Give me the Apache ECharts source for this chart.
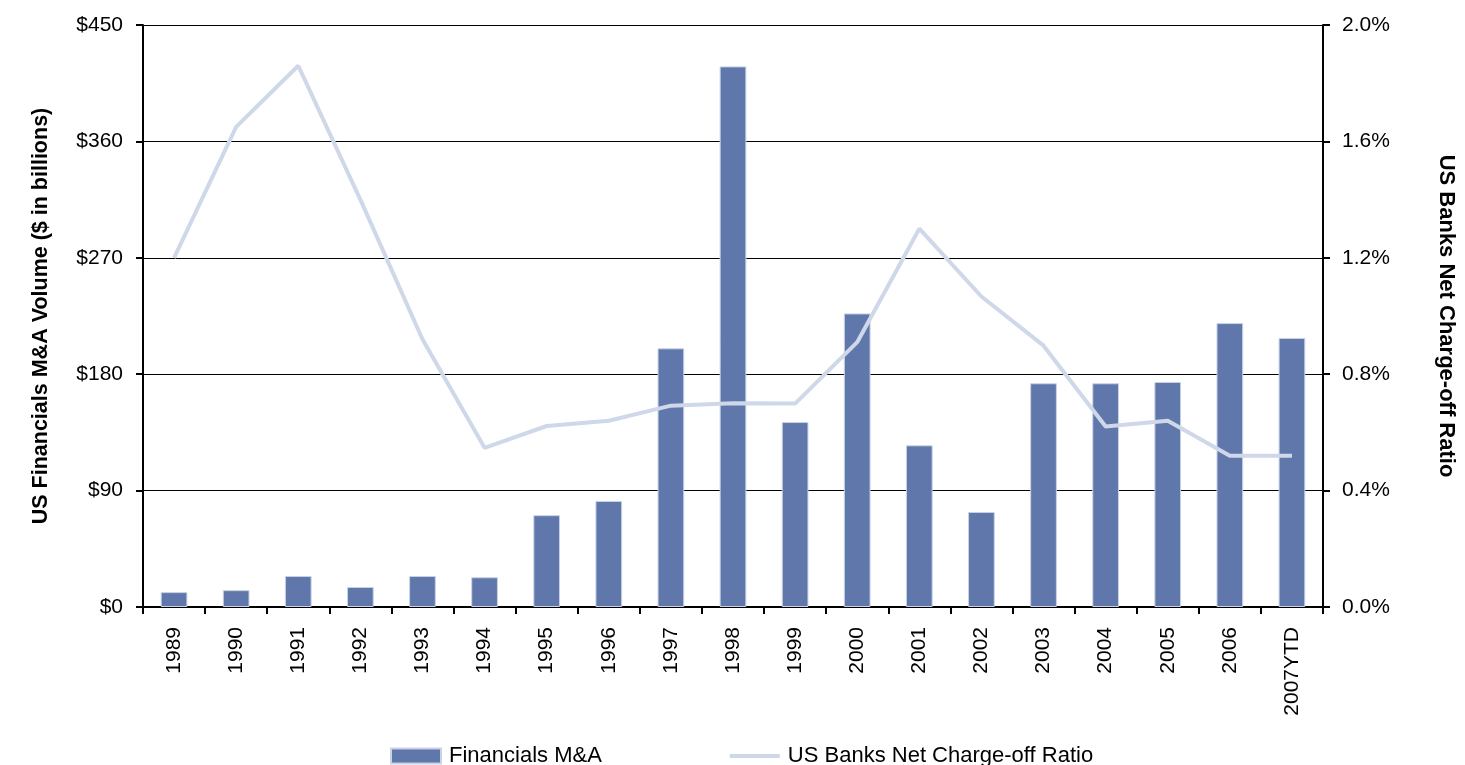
<!DOCTYPE html>
<html>
<head>
<meta charset="utf-8">
<title>US Financials M&amp;A vs. Net Charge-off Ratio</title>
<script src="https://cdn.jsdelivr.net/npm/echarts@6/dist/echarts.min.js"></script>
<style>
  html, body { margin: 0; padding: 0; background: #ffffff; }
  #chart { width: 1465px; height: 765px; }
</style>
</head>
<body>
<div id="chart"></div>
<script>
// Years on the category axis
const years = ['1989', '1990', '1991', '1992', '1993', '1994', '1995', '1996', '1997', '1998',
               '1999', '2000', '2001', '2002', '2003', '2004', '2005', '2006', '2007YTD'];

// US Financials M&A volume, $ billions
const maVolume = [11.5, 13, 24, 15.5, 24, 23, 71, 82, 200, 418,
                  143, 227, 125, 73.5, 173, 173, 174, 219.5, 208];

// US banks net charge-off ratio, percent
const chargeOffRatio = [1.20, 1.65, 1.86, 1.40, 0.92, 0.547, 0.622, 0.640, 0.692, 0.700,
                        0.699, 0.910, 1.30, 1.067, 0.898, 0.620, 0.640, 0.52, 0.52];

// Tick settings for the two value axes
const leftTicks = { min: 0, max: 450, interval: 90 };
const rightTicks = { min: 0, max: 2.0, interval: 0.4 };

const FONT = '"Liberation Sans", Arial, sans-serif';
const BAR_COLOR = '#5f77aa';
const LINE_COLOR = '#cfd8e9';

const chart = echarts.init(document.getElementById('chart'), null, { renderer: 'canvas' });

chart.setOption({
  backgroundColor: '#ffffff',
  animation: false,
  textStyle: { fontFamily: FONT, color: '#000' },
  grid: { left: 143, right: 137, top: 25, bottom: 158, containLabel: false },
  legend: {
    left: 385,
    top: 740,
    itemWidth: 50,
    itemHeight: 15,
    itemGap: 128,
    textStyle: { fontFamily: FONT, fontSize: 22, color: '#000', padding: [0, 0, 0, 3] },
    data: [
      { name: 'Financials M&A', icon: 'rect' },
      { name: 'US Banks Net Charge-off Ratio', icon: 'path://M0,0H52V4H0Z' }
    ]
  },
  xAxis: {
    type: 'category',
    data: years,
    boundaryGap: true,
    axisLine: { show: true, lineStyle: { color: '#000', width: 2 } },
    axisTick: { show: true, alignWithLabel: false, length: 7, lineStyle: { color: '#000', width: 2 } },
    axisLabel: { rotate: 90, margin: 20, fontSize: 21, fontFamily: FONT, color: '#000', interval: 0 },
    splitLine: { show: false }
  },
  yAxis: [
    {
      type: 'value',
      position: 'left',
      min: leftTicks.min,
      max: leftTicks.max,
      interval: leftTicks.interval,
      name: 'US Financials M&A Volume ($ in billions)',
      nameLocation: 'middle',
      nameRotate: 90,
      nameGap: 91,
      nameTextStyle: { fontFamily: FONT, fontSize: 21.5, fontWeight: 'bold', color: '#000' },
      axisLine: { show: true, lineStyle: { color: '#000', width: 2 } },
      axisTick: { show: true, length: 7, lineStyle: { color: '#000', width: 2 } },
      axisLabel: { margin: 20, fontSize: 21, fontFamily: FONT, color: '#000', formatter: v => '$' + v },
      splitLine: { show: true, lineStyle: { color: '#000', width: 1 } }
    },
    {
      type: 'value',
      position: 'right',
      min: rightTicks.min,
      max: rightTicks.max,
      interval: rightTicks.interval,
      name: 'US Banks Net Charge-off Ratio',
      nameLocation: 'middle',
      nameRotate: -90,
      nameGap: 112,
      nameTextStyle: { fontFamily: FONT, fontSize: 22, fontWeight: 'bold', color: '#000' },
      axisLine: { show: true, lineStyle: { color: '#000', width: 2 } },
      axisTick: { show: true, length: 7, lineStyle: { color: '#000', width: 2 } },
      axisLabel: { margin: 19, fontSize: 21, fontFamily: FONT, color: '#000', formatter: v => v.toFixed(1) + '%' },
      splitLine: { show: false }
    }
  ],
  series: [
    {
      name: 'Financials M&A',
      type: 'bar',
      yAxisIndex: 0,
      data: maVolume,
      barWidth: '43%',
      itemStyle: { color: BAR_COLOR, borderColor: '#c9d2e6', borderWidth: 1 },
      z: 2
    },
    {
      name: 'US Banks Net Charge-off Ratio',
      type: 'line',
      yAxisIndex: 1,
      data: chargeOffRatio,
      symbol: 'none',
      lineStyle: { color: LINE_COLOR, width: 4 },
      itemStyle: { color: LINE_COLOR },
      z: 3
    }
  ]
});
</script>
</body>
</html>
